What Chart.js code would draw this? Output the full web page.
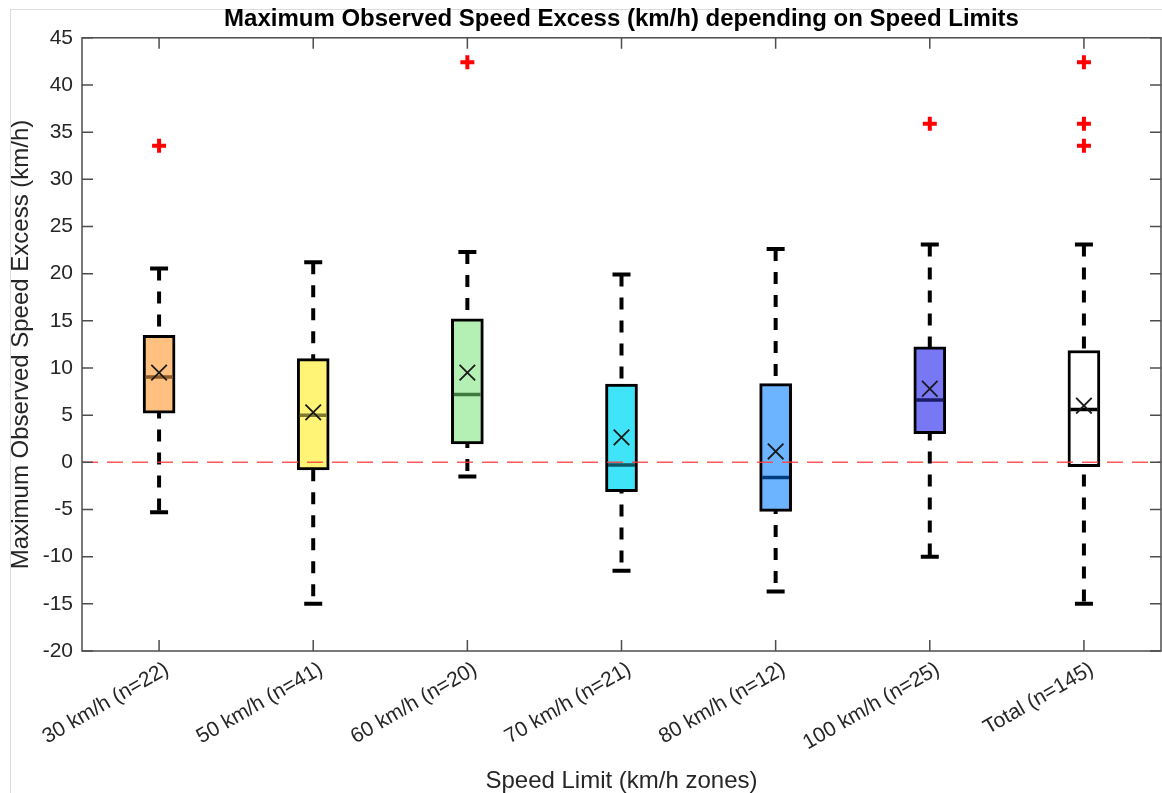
<!DOCTYPE html>
<html lang="en">
<head>
    <meta charset="UTF-8">
    <title>Maximum Observed Speed Excess</title>
    <script src="https://cdn.jsdelivr.net/npm/chart.js"></script>
    <style>
        body { margin: 0; background: #fff; }
        .wrap { position: relative; width: 1162px; height: 793px; }
        .figframe {
            position: absolute; left: 10px; top: 9px; right: 0; bottom: 0;
            border-left: 1px solid #dcdcdc; border-top: 1px solid #dcdcdc;
            pointer-events: none;
        }
        canvas { position: absolute; left: 0; top: 0; }
    </style>
</head>
<body>
<div class="wrap">
    <div class="figframe"></div>
    <canvas id="boxChart" width="1162" height="793"></canvas>
</div>
<script>
    // box plot values (km/h)
    const labels = ['30 km/h (n=22)', '50 km/h (n=41)', '60 km/h (n=20)', '70 km/h (n=21)', '80 km/h (n=12)', '100 km/h (n=25)', 'Total (n=145)'];
    const whiskerLow = [-5.3, -15.0, -1.5, -11.5, -13.7, -10.0, -15.0];
    const q1 = [5.2, -0.8, 1.95, -3.1, -5.2, 3.05, -0.45];
    const median = [9.05, 5.0, 7.2, -0.28, -1.6, 6.6, 5.6];
    const q3 = [13.45, 11.0, 15.2, 8.3, 8.35, 12.25, 11.85];
    const whiskerHigh = [20.55, 21.2, 22.3, 19.9, 22.6, 23.1, 23.1];
    const means = [9.5, 5.3, 9.5, 2.65, 1.15, 7.8, 6.0];
    const outliers = [[33.55], [], [42.4], [], [], [35.9], [42.4, 35.9, 33.55]];

    const boxColors = ['#ffc080', '#fff476', '#b4f0b4', '#40e4f8', '#6cb4ff', '#7878f4', '#ffffff'];
    const medianColors = ['#8c5a26', '#807a30', '#3d7a3d', '#0d5866', '#003c80', '#1a1a66', '#000000'];

    const FONT = "'Liberation Sans', Arial, sans-serif";
    const TEXT = '#262626';

    // frame, inward ticks and the zero reference line
    const framePlugin = {
        id: 'frame',
        afterDatasetsDraw(chart) {
            const { ctx, chartArea: a, scales } = chart;
            const y0 = scales.y.getPixelForValue(0);
            ctx.save();
            ctx.strokeStyle = 'rgba(255, 60, 60, 0.85)';
            ctx.lineWidth = 1.5;
            ctx.setLineDash([16, 9]);
            ctx.beginPath();
            ctx.moveTo(a.left, y0);
            ctx.lineTo(a.right, y0);
            ctx.stroke();
            ctx.restore();
        },
        afterDraw(chart) {
            const { ctx, chartArea: a, scales } = chart;
            ctx.save();
            ctx.strokeStyle = '#4d4d4d';
            ctx.lineWidth = 1.5;
            ctx.strokeRect(a.left, a.top, a.right - a.left, a.bottom - a.top);
            ctx.beginPath();
            scales.y.ticks.forEach((t, i) => {
                const py = scales.y.getPixelForTick(i);
                ctx.moveTo(a.left, py); ctx.lineTo(a.left + 11, py);
                ctx.moveTo(a.right, py); ctx.lineTo(a.right - 11, py);
            });
            labels.forEach((l, i) => {
                const px = scales.x.getPixelForValue(i);
                ctx.moveTo(px, a.bottom); ctx.lineTo(px, a.bottom - 11);
                ctx.moveTo(px, a.top); ctx.lineTo(px, a.top + 11);
            });
            ctx.stroke();
            ctx.restore();
        }
    };

    const whiskerSets = labels.map((l, i) => ({
        type: 'line',
        data: [{ x: l, y: whiskerHigh[i] }, { x: l, y: whiskerLow[i] }],
        borderColor: '#000',
        borderWidth: 4,
        borderDash: [12, 11],
        pointRadius: 0,
        order: 6
    }));

    const capPoints = [];
    labels.forEach((l, i) => {
        capPoints.push({ x: l, y: whiskerLow[i] });
        capPoints.push({ x: l, y: whiskerHigh[i] });
    });

    const outlierPoints = [];
    labels.forEach((l, i) => outliers[i].forEach(v => outlierPoints.push({ x: l, y: v })));

    new Chart(document.getElementById('boxChart'), {
        type: 'bar',
        data: {
            labels: labels,
            datasets: [
                ...whiskerSets,
                {
                    type: 'line',
                    data: capPoints,
                    showLine: false,
                    pointStyle: 'line',
                    pointRadius: 9,
                    pointBorderWidth: 4,
                    pointBorderColor: '#000',
                    order: 5
                },
                {
                    type: 'bar',
                    data: labels.map((l, i) => [q1[i], q3[i]]),
                    backgroundColor: boxColors,
                    borderColor: '#000',
                    borderWidth: 3,
                    borderSkipped: false,
                    barThickness: 32,
                    order: 4
                },
                {
                    type: 'line',
                    data: median,
                    showLine: false,
                    pointStyle: 'line',
                    pointRadius: 13.5,
                    pointBorderWidth: 3.5,
                    pointBorderColor: medianColors,
                    order: 3
                },
                {
                    type: 'line',
                    data: means,
                    showLine: false,
                    pointStyle: 'crossRot',
                    pointRadius: 11,
                    pointBorderWidth: 1.8,
                    pointBorderColor: '#1a1a1a',
                    order: 2
                },
                {
                    type: 'line',
                    data: outlierPoints,
                    showLine: false,
                    pointStyle: 'cross',
                    pointRadius: 7,
                    pointBorderWidth: 4,
                    pointBorderColor: '#ff0000',
                    order: 1
                }
            ]
        },
        options: {
            responsive: false,
            animation: false,
            events: [],
            layout: { autoPadding: false, padding: { left: 0, right: 1, top: 0, bottom: 0 } },
            plugins: {
                legend: { display: false },
                tooltip: { enabled: false },
                title: {
                    display: true,
                    fullSize: false,
                    text: 'Maximum Observed Speed Excess (km/h) depending on Speed Limits',
                    color: '#000',
                    font: { family: FONT, size: 24, weight: 'bold' },
                    padding: { top: 5, bottom: 4 }
                }
            },
            scales: {
                x: {
                    offset: true,
                    grid: { display: false, drawTicks: false },
                    border: { display: false },
                    ticks: {
                        color: TEXT,
                        font: { family: FONT, size: 21 },
                        minRotation: 30,
                        maxRotation: 30,
                        autoSkip: false,
                        padding: 6,
                        labelOffset: 8
                    },
                    title: {
                        display: true,
                        text: 'Speed Limit (km/h zones)',
                        color: TEXT,
                        font: { family: FONT, size: 24 },
                        padding: { top: 0, bottom: -3 }
                    },
                    afterFit(scale) {
                        scale.height = 142;
                        scale.paddingLeft = 0;
                        scale.paddingRight = 0;
                    }
                },
                y: {
                    min: -20,
                    max: 45,
                    grid: { display: false, drawTicks: false },
                    border: { display: false },
                    ticks: {
                        stepSize: 5,
                        color: TEXT,
                        font: { family: FONT, size: 21 },
                        padding: 9
                    },
                    title: {
                        display: true,
                        text: 'Maximum Observed Speed Excess (km/h)',
                        color: TEXT,
                        font: { family: FONT, size: 24 },
                        padding: { top: 7, bottom: 0 }
                    },
                    afterFit(scale) {
                        scale.width = 82;
                        scale.paddingTop = 0;
                        scale.paddingBottom = 0;
                    }
                }
            }
        },
        plugins: [framePlugin]
    });
</script>
</body>
</html>
